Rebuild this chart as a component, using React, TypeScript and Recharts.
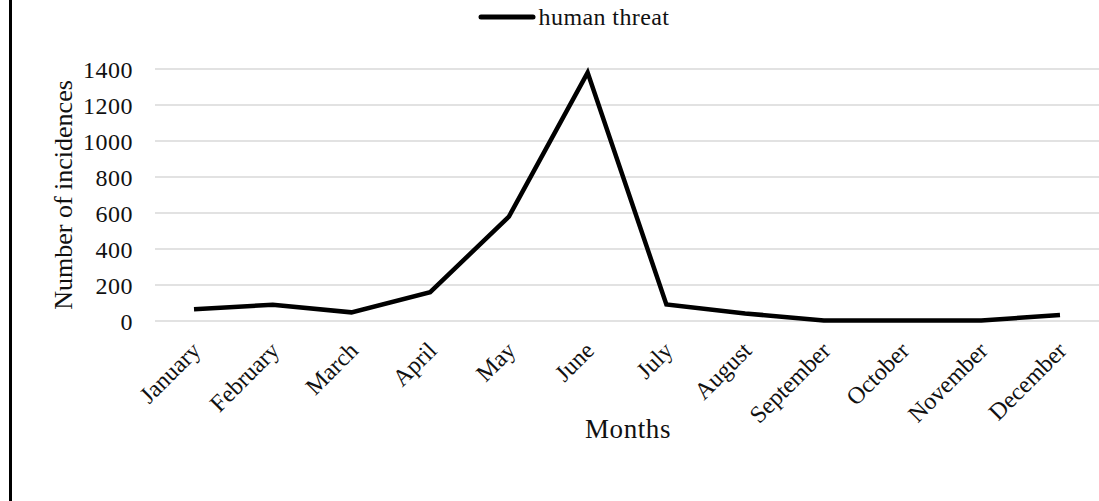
import React from 'react';
import { LineChart, Line, XAxis, YAxis, CartesianGrid, Legend } from 'recharts';

const months = ['January', 'February', 'March', 'April', 'May', 'June', 'July', 'August', 'September', 'October', 'November', 'December'];
const humanThreat = [65, 90, 48, 160, 580, 1380, 92, 42, 3, 3, 3, 33];
const yTicks = [0, 200, 400, 600, 800, 1000, 1200, 1400];
const seriesName = 'human threat';

const data = months.map((m, i) => ({ month: m, value: humanThreat[i] }));

const FONT = '"Liberation Serif", "Times New Roman", serif';
const TEXT = '#111';

const XTick = (props: any) => {
  const { x, y, payload } = props;
  const tx = x + 8;
  const ty = y + 23;
  return (
    <text
      x={tx}
      y={ty}
      transform={`rotate(-45, ${tx}, ${ty})`}
      textAnchor="end"
      fontFamily={FONT}
      fontSize={24}
      fill={TEXT}
    >
      {payload.value}
    </text>
  );
};

const LegendContent = (props: any) => {
  const { payload } = props;
  return (
    <div style={{ display: 'flex', justifyContent: 'center', alignItems: 'center', height: 34, paddingLeft: 48 }}>
      {(payload || []).map((p: any) => (
        <div key={p.value} style={{ display: 'flex', alignItems: 'center' }}>
          <svg width={58} height={10}>
            <line x1={3} y1={5} x2={55} y2={5} stroke={p.color} strokeWidth={5} strokeLinecap="round" />
          </svg>
          <span style={{ fontFamily: FONT, fontSize: 24, letterSpacing: 0.4, color: TEXT, marginLeft: 3 }}>{p.value}</span>
        </div>
      ))}
    </div>
  );
};

export default function App() {
  return (
    <div style={{ position: 'absolute', left: 0, top: 0, width: 1099, height: 501, background: '#fff', overflow: 'hidden' }}>
      <div style={{ position: 'absolute', left: 9, top: 0, width: 3, height: 501, background: '#000' }} />
      <LineChart width={1099} height={501} data={data} margin={{ top: 35, right: 0, bottom: 30, left: 0 }}>
        <CartesianGrid vertical={false} stroke="#d9d9d9" strokeWidth={1.5} />
        <Legend verticalAlign="top" content={LegendContent} wrapperStyle={{ top: 0, left: 0, width: 1099 }} />
        <XAxis
          dataKey="month"
          axisLine={false}
          tickLine={false}
          interval={0}
          height={150}
          padding={{ left: 39, right: 39 }}
          tick={XTick}
          label={{
            content: (p: any) => {
              const vb = p.viewBox;
              return (
                <text x={vb.x + vb.width / 2 + 1} y={vb.y + vb.height - 33} textAnchor="middle" fontFamily={FONT} fontSize={27} letterSpacing={0.6} fill={TEXT}>
                  Months
                </text>
              );
            },
          }}
        />
        <YAxis
          domain={[0, 1400]}
          ticks={yTicks}
          axisLine={false}
          tickLine={false}
          width={155}
          tickMargin={16}
          tick={{ fontFamily: FONT, fontSize: 24, fill: TEXT, letterSpacing: 0.5 }}
          label={{
            content: (p: any) => {
              const vb = p.viewBox;
              const cx = 63;
              const cy = vb.y + vb.height / 2;
              return (
                <text x={cx} y={cy} transform={`rotate(-90, ${cx}, ${cy})`} textAnchor="middle" dominantBaseline="central" fontFamily={FONT} fontSize={26} fill={TEXT}>
                  Number of incidences
                </text>
              );
            },
          }}
        />
        <Line
          name={seriesName}
          type="linear"
          dataKey="value"
          stroke="#000"
          strokeWidth={4.5}
          dot={false}
          activeDot={false}
          isAnimationActive={false}
        />
      </LineChart>
    </div>
  );
}
